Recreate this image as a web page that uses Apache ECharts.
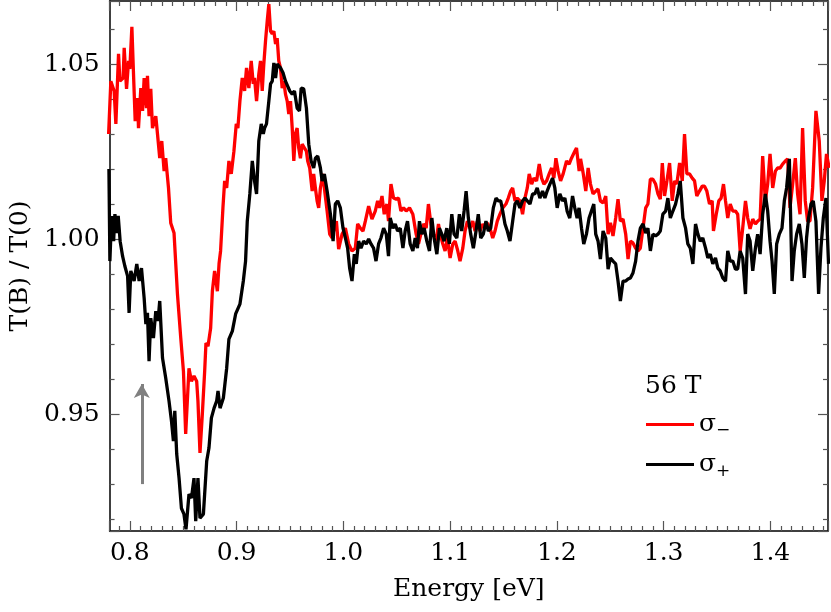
<!DOCTYPE html>
<html>
<head>
<meta charset="utf-8">
<script src="https://cdn.jsdelivr.net/npm/echarts@6/dist/echarts.min.js"></script>
<style>
  html, body { margin: 0; padding: 0; background: #fff; }
  #chart { width: 831px; height: 612px; }
</style>
</head>
<body>
<div id="chart"></div>
<script>
// sigma- (red)
const energyMinus = [0.7801, 0.7822, 0.7853, 0.7869, 0.7894, 0.7907, 0.7937, 0.7947, 0.7969, 0.7988,
  0.8000, 0.8019, 0.8031, 0.8050, 0.8072, 0.8081, 0.8103, 0.8119, 0.8134, 0.8156,
  0.8165, 0.8180, 0.8196, 0.8212, 0.8243, 0.8259, 0.8280, 0.8299, 0.8321, 0.8336,
  0.8362, 0.8383, 0.8414, 0.8446, 0.8477, 0.8502, 0.8523, 0.8554, 0.8577, 0.8601,
  0.8626, 0.8638, 0.8657, 0.8679, 0.8701, 0.8713, 0.8732, 0.8757, 0.8773, 0.8794,
  0.8820, 0.8836, 0.8850, 0.8872, 0.8888, 0.8907, 0.8928, 0.8950, 0.8975, 0.8997,
  0.9012, 0.9031, 0.9053, 0.9075, 0.9093, 0.9115, 0.9137, 0.9156, 0.9168, 0.9187,
  0.9208, 0.9224, 0.9240, 0.9255, 0.9271, 0.9287, 0.9302, 0.9318, 0.9334, 0.9349,
  0.9365, 0.9380, 0.9395, 0.9411, 0.9427, 0.9442, 0.9458, 0.9474, 0.9489, 0.9505,
  0.9521, 0.9536, 0.9551, 0.9567, 0.9582, 0.9598, 0.9614, 0.9636, 0.9654, 0.9666,
  0.9685, 0.9708, 0.9722, 0.9738, 0.9754, 0.9769, 0.9785, 0.9810, 0.9822, 0.9848,
  0.9872, 0.9894, 0.9909, 0.9935, 0.9956, 0.9988, 1.0019, 1.0050, 1.0081, 1.0112,
  1.0134, 1.0159, 1.0184, 1.0206, 1.0237, 1.0268, 1.0299, 1.0321, 1.0339, 1.0362,
  1.0383, 1.0408, 1.0423, 1.0446, 1.0470, 1.0495, 1.0517, 1.0539, 1.0564, 1.0589,
  1.0620, 1.0651, 1.0682, 1.0704, 1.0726, 1.0751, 1.0776, 1.0797, 1.0820, 1.0844,
  1.0869, 1.0891, 1.0907, 1.0932, 1.0953, 1.0975, 1.1000, 1.1025, 1.1047, 1.1068,
  1.1093, 1.1119, 1.1140, 1.1162, 1.1187, 1.1212, 1.1234, 1.1255, 1.1280, 1.1306,
  1.1327, 1.1349, 1.1374, 1.1399, 1.1421, 1.1442, 1.1467, 1.1493, 1.1523, 1.1545,
  1.1567, 1.1586, 1.1608, 1.1629, 1.1654, 1.1679, 1.1701, 1.1723, 1.1741, 1.1764,
  1.1785, 1.1810, 1.1835, 1.1857, 1.1879, 1.1904, 1.1928, 1.1951, 1.1972, 1.1991,
  1.2012, 1.2035, 1.2059, 1.2091, 1.2115, 1.2137, 1.2168, 1.2184, 1.2209, 1.2222,
  1.2246, 1.2271, 1.2293, 1.2315, 1.2339, 1.2365, 1.2386, 1.2408, 1.2433, 1.2458,
  1.2480, 1.2502, 1.2526, 1.2551, 1.2573, 1.2595, 1.2620, 1.2645, 1.2667, 1.2689,
  1.2713, 1.2738, 1.2760, 1.2782, 1.2807, 1.2832, 1.2853, 1.2876, 1.2900, 1.2925,
  1.2947, 1.2969, 1.2988, 1.3009, 1.3031, 1.3056, 1.3081, 1.3103, 1.3124, 1.3150,
  1.3175, 1.3196, 1.3218, 1.3243, 1.3268, 1.3290, 1.3311, 1.3336, 1.3362, 1.3383,
  1.3405, 1.3430, 1.3455, 1.3467, 1.3493, 1.3517, 1.3539, 1.3561, 1.3580, 1.3601,
  1.3624, 1.3648, 1.3673, 1.3694, 1.3717, 1.3741, 1.3767, 1.3788, 1.3810, 1.3835,
  1.3860, 1.3881, 1.3904, 1.3928, 1.3953, 1.3975, 1.3997, 1.4022, 1.4047, 1.4068,
  1.4091, 1.4115, 1.4140, 1.4162, 1.4184, 1.4209, 1.4234, 1.4255, 1.4278, 1.4302,
  1.4327, 1.4349, 1.4371, 1.4396, 1.4427, 1.4458, 1.4483, 1.4505, 1.4526, 1.4551];
const tMinus = [1.0300, 1.0451, 1.0423, 1.0329, 1.0529, 1.0451, 1.0460, 1.0546, 1.0429, 1.0509,
  1.0486, 1.0606, 1.0500, 1.0337, 1.0403, 1.0317, 1.0431, 1.0366, 1.0460, 1.0374,
  1.0466, 1.0351, 1.0429, 1.0317, 1.0351, 1.0300, 1.0231, 1.0280, 1.0194, 1.0231,
  1.0146, 1.0046, 1.0017, 0.9843, 0.9717, 0.9623, 0.9443, 0.9631, 0.9594, 0.9609,
  0.9594, 0.9537, 0.9389, 0.9500, 0.9623, 0.9703, 0.9694, 0.9746, 0.9851, 0.9909,
  0.9851, 0.9931, 0.9966, 1.0089, 1.0166, 1.0146, 1.0223, 1.0186, 1.0251, 1.0329,
  1.0317, 1.0394, 1.0460, 1.0423, 1.0489, 1.0431, 1.0509, 1.0443, 1.0460, 1.0394,
  1.0471, 1.0509, 1.0423, 1.0500, 1.0566, 1.0623, 1.0671, 1.0594, 1.0586, 1.0594,
  1.0557, 1.0574, 1.0509, 1.0489, 1.0431, 1.0451, 1.0414, 1.0394, 1.0357, 1.0394,
  1.0317, 1.0223, 1.0300, 1.0317, 1.0260, 1.0231, 1.0271, 1.0260, 1.0251, 1.0223,
  1.0203, 1.0137, 1.0186, 1.0146, 1.0109, 1.0089, 1.0146, 1.0186, 1.0146, 1.0080,
  1.0014, 1.0003, 1.0023, 1.0051, 0.9971, 1.0014, 1.0031, 0.9986, 0.9966, 0.9974,
  1.0043, 1.0031, 1.0023, 1.0051, 1.0094, 1.0057, 1.0080, 1.0109, 1.0089, 1.0123,
  1.0071, 1.0100, 1.0051, 1.0157, 1.0117, 1.0114, 1.0117, 1.0080, 1.0089, 1.0080,
  1.0089, 1.0071, 1.0014, 0.9986, 1.0014, 1.0043, 1.0031, 1.0100, 1.0043, 1.0014,
  0.9994, 1.0043, 1.0014, 0.9986, 0.9966, 1.0003, 0.9946, 0.9986, 0.9994, 0.9971,
  0.9937, 0.9974, 1.0023, 1.0051, 1.0031, 1.0051, 1.0023, 1.0051, 1.0023, 1.0043,
  1.0031, 1.0046, 1.0031, 1.0003, 1.0023, 1.0051, 1.0071, 1.0089, 1.0100, 1.0117,
  1.0137, 1.0146, 1.0109, 1.0117, 1.0109, 1.0071, 1.0117, 1.0146, 1.0186, 1.0157,
  1.0174, 1.0166, 1.0214, 1.0174, 1.0157, 1.0166, 1.0186, 1.0203, 1.0174, 1.0231,
  1.0194, 1.0166, 1.0186, 1.0223, 1.0214, 1.0231, 1.0251, 1.0260, 1.0194, 1.0229,
  1.0189, 1.0137, 1.0203, 1.0157, 1.0129, 1.0137, 1.0143, 1.0109, 1.0103, 1.0123,
  1.0014, 1.0046, 1.0009, 1.0060, 1.0114, 1.0051, 1.0057, 1.0014, 0.9943, 0.9994,
  0.9989, 0.9974, 0.9966, 0.9974, 1.0031, 1.0089, 1.0100, 1.0171, 1.0171, 1.0157,
  1.0129, 1.0114, 1.0217, 1.0123, 1.0166, 1.0217, 1.0109, 1.0166, 1.0157, 1.0217,
  1.0166, 1.0300, 1.0186, 1.0186, 1.0174, 1.0166, 1.0123, 1.0137, 1.0151, 1.0151,
  1.0137, 1.0100, 1.0109, 1.0023, 1.0071, 1.0109, 1.0117, 1.0157, 1.0109, 1.0060,
  1.0100, 1.0080, 1.0080, 1.0071, 0.9966, 1.0031, 1.0109, 1.0060, 1.0029, 1.0057,
  1.0043, 1.0051, 1.0057, 1.0237, 1.0109, 1.0157, 1.0243, 1.0146, 1.0194, 1.0203,
  1.0203, 1.0214, 1.0223, 1.0229, 1.0089, 1.0157, 1.0231, 1.0129, 1.0071, 1.0317,
  1.0109, 1.0051, 1.0051, 1.0146, 1.0366, 1.0280, 1.0109, 1.0166, 1.0243, 1.0203];

// sigma+ (black)
const energyPlus = [0.7804, 0.7813, 0.7829, 0.7848, 0.7860, 0.7879, 0.7891, 0.7909, 0.7932, 0.7953,
  0.7979, 0.7993, 0.8009, 0.8040, 0.8065, 0.8087, 0.8109, 0.8134, 0.8150, 0.8165,
  0.8180, 0.8196, 0.8221, 0.8243, 0.8264, 0.8280, 0.8306, 0.8336, 0.8367, 0.8390,
  0.8408, 0.8421, 0.8439, 0.8461, 0.8483, 0.8507, 0.8526, 0.8554, 0.8577, 0.8601,
  0.8617, 0.8638, 0.8657, 0.8689, 0.8720, 0.8741, 0.8764, 0.8789, 0.8813, 0.8826,
  0.8845, 0.8876, 0.8907, 0.8928, 0.8960, 0.8991, 0.9031, 0.9063, 0.9084, 0.9100,
  0.9124, 0.9147, 0.9168, 0.9187, 0.9208, 0.9231, 0.9250, 0.9262, 0.9280, 0.9302,
  0.9318, 0.9334, 0.9349, 0.9365, 0.9380, 0.9411, 0.9436, 0.9458, 0.9474, 0.9498,
  0.9521, 0.9542, 0.9567, 0.9589, 0.9605, 0.9629, 0.9654, 0.9676, 0.9698, 0.9722,
  0.9738, 0.9760, 0.9785, 0.9801, 0.9822, 0.9848, 0.9879, 0.9904, 0.9925, 0.9947,
  0.9972, 0.9997, 1.0019, 1.0040, 1.0059, 1.0081, 1.0103, 1.0121, 1.0143, 1.0165,
  1.0190, 1.0215, 1.0237, 1.0259, 1.0283, 1.0306, 1.0330, 1.0352, 1.0377, 1.0402,
  1.0423, 1.0439, 1.0465, 1.0486, 1.0508, 1.0533, 1.0558, 1.0579, 1.0601, 1.0626,
  1.0651, 1.0673, 1.0694, 1.0713, 1.0735, 1.0757, 1.0782, 1.0807, 1.0829, 1.0850,
  1.0876, 1.0900, 1.0922, 1.0944, 1.0969, 1.0993, 1.1016, 1.1037, 1.1063, 1.1087,
  1.1109, 1.1131, 1.1150, 1.1171, 1.1193, 1.1218, 1.1243, 1.1264, 1.1287, 1.1311,
  1.1336, 1.1358, 1.1380, 1.1405, 1.1430, 1.1451, 1.1474, 1.1493, 1.1514, 1.1536,
  1.1561, 1.1586, 1.1608, 1.1629, 1.1654, 1.1679, 1.1701, 1.1723, 1.1748, 1.1773,
  1.1794, 1.1816, 1.1841, 1.1866, 1.1888, 1.1909, 1.1935, 1.1960, 1.1981, 1.2003,
  1.2028, 1.2053, 1.2075, 1.2096, 1.2121, 1.2147, 1.2168, 1.2190, 1.2208, 1.2231,
  1.2252, 1.2277, 1.2302, 1.2324, 1.2346, 1.2364, 1.2386, 1.2408, 1.2433, 1.2458,
  1.2480, 1.2502, 1.2526, 1.2551, 1.2573, 1.2595, 1.2620, 1.2645, 1.2667, 1.2689,
  1.2713, 1.2738, 1.2760, 1.2782, 1.2807, 1.2832, 1.2853, 1.2876, 1.2900, 1.2925,
  1.2947, 1.2969, 1.2993, 1.3019, 1.3040, 1.3063, 1.3087, 1.3112, 1.3134, 1.3156,
  1.3181, 1.3206, 1.3227, 1.3250, 1.3274, 1.3299, 1.3321, 1.3343, 1.3367, 1.3393,
  1.3414, 1.3437, 1.3461, 1.3486, 1.3508, 1.3530, 1.3554, 1.3580, 1.3601, 1.3624,
  1.3648, 1.3673, 1.3694, 1.3717, 1.3741, 1.3767, 1.3788, 1.3810, 1.3835, 1.3860,
  1.3881, 1.3904, 1.3928, 1.3953, 1.3975, 1.3997, 1.4016, 1.4037, 1.4059, 1.4084,
  1.4109, 1.4131, 1.4152, 1.4178, 1.4203, 1.4224, 1.4246, 1.4271, 1.4296, 1.4318,
  1.4339, 1.4358, 1.4381, 1.4402, 1.4427, 1.4452, 1.4474, 1.4496, 1.4521, 1.4545];
const tPlus = [1.0200, 0.9937, 1.0066, 0.9994, 1.0071, 1.0017, 1.0066, 0.9994, 0.9951, 0.9923,
  0.9894, 0.9789, 0.9909, 0.9880, 0.9929, 0.9880, 0.9917, 0.9831, 0.9757, 0.9789,
  0.9651, 0.9774, 0.9717, 0.9794, 0.9766, 0.9823, 0.9660, 0.9603, 0.9537, 0.9480,
  0.9423, 0.9509, 0.9386, 0.9317, 0.9231, 0.9214, 0.9171, 0.9271, 0.9260, 0.9317,
  0.9194, 0.9317, 0.9203, 0.9214, 0.9366, 0.9403, 0.9489, 0.9517, 0.9537, 0.9566,
  0.9517, 0.9546, 0.9631, 0.9714, 0.9737, 0.9786, 0.9814, 0.9880, 0.9937, 1.0051,
  1.0129, 1.0223, 1.0166, 1.0129, 1.0280, 1.0329, 1.0300, 1.0317, 1.0329, 1.0394,
  1.0443, 1.0451, 1.0503, 1.0460, 1.0500, 1.0489, 1.0474, 1.0451, 1.0446, 1.0423,
  1.0414, 1.0423, 1.0374, 1.0366, 1.0431, 1.0429, 1.0374, 1.0271, 1.0223, 1.0203,
  1.0231, 1.0237, 1.0203, 1.0166, 1.0186, 1.0137, 1.0071, 0.9994, 1.0100, 1.0109,
  1.0089, 1.0031, 1.0003, 0.9974, 0.9917, 0.9880, 0.9957, 0.9929, 0.9994, 0.9974,
  0.9994, 0.9986, 1.0000, 0.9986, 0.9974, 0.9937, 0.9986, 1.0003, 1.0031, 1.0014,
  0.9951, 1.0060, 1.0031, 1.0043, 1.0023, 1.0031, 0.9974, 1.0023, 1.0051, 0.9986,
  0.9966, 1.0003, 0.9974, 1.0051, 1.0014, 1.0031, 0.9994, 0.9966, 1.0060, 1.0003,
  0.9957, 1.0031, 1.0014, 0.9994, 1.0031, 0.9986, 1.0071, 1.0014, 1.0003, 1.0071,
  1.0023, 1.0080, 1.0137, 1.0060, 1.0014, 0.9974, 1.0023, 1.0071, 1.0003, 1.0014,
  1.0051, 1.0023, 1.0031, 1.0089, 1.0117, 1.0109, 1.0109, 1.0080, 1.0043, 1.0023,
  0.9994, 1.0051, 1.0100, 1.0109, 1.0089, 1.0109, 1.0117, 1.0109, 1.0100, 1.0129,
  1.0129, 1.0146, 1.0117, 1.0137, 1.0117, 1.0137, 1.0157, 1.0174, 1.0146, 1.0089,
  1.0129, 1.0109, 1.0117, 1.0080, 1.0060, 1.0123, 1.0089, 1.0060, 1.0089, 1.0031,
  0.9986, 1.0014, 1.0060, 1.0080, 1.0100, 1.0014, 0.9994, 0.9943, 1.0023, 1.0003,
  0.9914, 0.9946, 0.9937, 0.9929, 0.9880, 0.9823, 0.9880, 0.9880, 0.9886, 0.9889,
  0.9903, 0.9937, 0.9994, 1.0031, 1.0043, 1.0017, 1.0031, 0.9966, 1.0014, 1.0009,
  1.0014, 1.0023, 1.0071, 1.0080, 1.0117, 1.0060, 1.0080, 1.0100, 1.0129, 1.0166,
  1.0060, 1.0031, 0.9986, 0.9974, 0.9929, 1.0043, 1.0014, 0.9994, 1.0003, 0.9974,
  0.9946, 0.9957, 0.9929, 0.9946, 0.9917, 0.9909, 0.9889, 0.9880, 0.9966, 0.9937,
  0.9937, 0.9914, 0.9914, 0.9966, 0.9946, 0.9843, 1.0014, 0.9994, 0.9909, 0.9974,
  1.0014, 0.9957, 1.0071, 1.0129, 1.0080, 0.9994, 0.9937, 0.9843, 0.9986, 1.0014,
  1.0031, 1.0109, 1.0146, 1.0229, 0.9880, 0.9966, 1.0014, 1.0043, 0.9986, 0.9889,
  1.0003, 1.0060, 1.0100, 1.0109, 1.0051, 0.9843, 0.9974, 1.0060, 1.0117, 0.9929];

// grey arrow marking the feature
const arrowEnergy = 0.8112;
const arrowT = [0.9300, 0.9586];

const fieldLabel = '56 T';
const seriesNames = ['σ−', 'σ+'];

const font = "'DejaVu Serif', serif";
const zip = (xs, ys) => xs.map((x, i) => [x, ys[i]]);

const chart = echarts.init(document.getElementById('chart'));

const tickStyle = { color: '#555', width: 1.2 };
const xBase = {
  type: 'value', min: 0.781, max: 1.454, splitNumber: 7,
  splitLine: { show: false },
  axisLine: { onZero: false, lineStyle: { color: '#000', width: 1.5 } },
  axisTick: { inside: true, length: 10, lineStyle: tickStyle },
  minorTick: { show: true, splitNumber: 10, length: 5, lineStyle: tickStyle }
};
const yBase = {
  type: 'value', min: 0.9166, max: 1.068, splitNumber: 3,
  splitLine: { show: false },
  axisLine: { onZero: false, lineStyle: { color: '#000', width: 1.5 } },
  axisTick: { inside: true, length: 10, lineStyle: tickStyle },
  minorTick: { show: true, splitNumber: 5, length: 5, lineStyle: tickStyle }
};
const onStep = (v, step) => Math.abs(v / step - Math.round(v / step)) < 1e-6;

chart.setOption({
  animation: false,
  backgroundColor: '#fff',
  grid: { left: 108, right: 2, top: 1, bottom: 81 },
  title: {
    text: fieldLabel, left: 640, top: 369,
    textStyle: { fontFamily: font, fontSize: 25, fontWeight: 'normal', color: '#000' }
  },
  legend: {
    orient: 'vertical', left: 641, top: 405, icon: 'rect',
    itemWidth: 48, itemHeight: 3, itemGap: 10,
    data: seriesNames,
    formatter: (n) => n === seriesNames[0] ? '{s|σ}{m|−}' : '{s|σ}{p|+}',
    textStyle: {
      color: '#000',
      rich: {
        s: { fontFamily: font, fontSize: 25, lineHeight: 27, color: '#000' },
        m: { fontFamily: font, fontSize: 17, lineHeight: 27, color: '#000', padding: [12, 0, 0, 0] },
        p: { fontFamily: font, fontSize: 17, lineHeight: 27, color: '#000', padding: [14, 0, 0, 0] }
      }
    }
  },
  xAxis: [
    Object.assign({}, xBase, {
      position: 'bottom',
      name: 'Energy [eV]', nameLocation: 'middle', nameGap: 46,
      nameTextStyle: { fontFamily: font, fontSize: 25, color: '#000' },
      axisLabel: {
        fontFamily: font, fontSize: 25, color: '#000', margin: 10,
        formatter: (v) => onStep(v, 0.1) ? v.toFixed(1) : ''
      }
    }),
    Object.assign({}, xBase, { position: 'top', axisLabel: { show: false } })
  ],
  yAxis: [
    Object.assign({}, yBase, {
      position: 'left',
      name: 'T(B) / T(0)', nameLocation: 'middle', nameGap: 76,
      nameTextStyle: { fontFamily: font, fontSize: 25, color: '#000' },
      axisLabel: {
        fontFamily: font, fontSize: 25, color: '#000', margin: 10,
        formatter: (v) => onStep(v, 0.05) ? v.toFixed(2) : ''
      }
    }),
    Object.assign({}, yBase, { position: 'right', axisLabel: { show: false } })
  ],
  series: [
    {
      name: seriesNames[0], type: 'line', data: zip(energyMinus, tMinus),
      showSymbol: false, lineStyle: { color: '#ff0000', width: 3.3 },
      itemStyle: { color: '#ff0000' }, z: 2
    },
    {
      name: seriesNames[1], type: 'line', data: zip(energyPlus, tPlus),
      showSymbol: false, lineStyle: { color: '#000', width: 3.3 },
      itemStyle: { color: '#000' }, z: 3,
      markLine: {
        silent: true, symbol: ['none', 'arrow'], symbolSize: [12, 14],
        label: { show: false },
        lineStyle: { color: '#808080', width: 3, type: 'solid' },
        data: [[{ coord: [arrowEnergy, arrowT[0]] }, { coord: [arrowEnergy, arrowT[1]] }]]
      }
    }
  ]
});
</script>
</body>
</html>
